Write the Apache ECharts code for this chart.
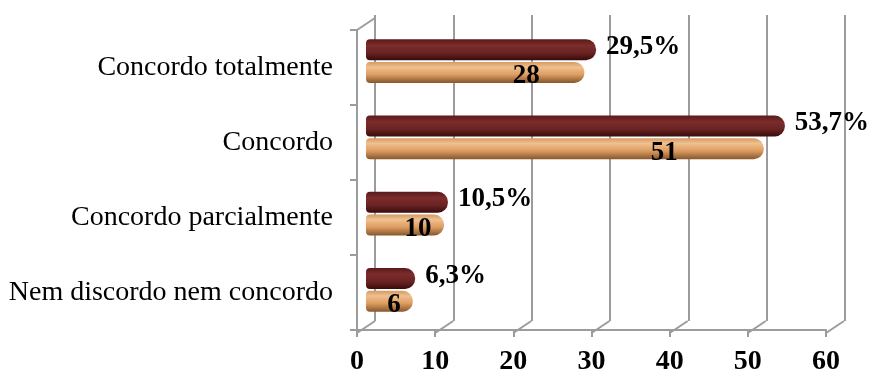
<!DOCTYPE html>
<html>
<head>
<meta charset="utf-8">
<style>
  html, body { margin: 0; padding: 0; background: #ffffff; }
  #chart { width: 874px; height: 376px; }
</style>
<script src="https://cdn.jsdelivr.net/npm/echarts@6/dist/echarts.min.js"></script>
</head>
<body>
<div id="chart"></div>
<script>
// Responses, listed bottom to top as they appear on the axis
const categories = [
  'Nem discordo nem concordo',
  'Concordo parcialmente',
  'Concordo',
  'Concordo totalmente'
];
// Share of respondents (%)
const percentValues = [6.3, 10.5, 53.7, 29.5];
// Number of respondents
const countValues = [6, 10, 51, 28];
// Value axis ticks
const axisTicks = [0, 10, 20, 30, 40, 50, 60];

const serif = '"Times New Roman", "Liberation Serif", serif';
const gridGray = '#9c9c9c';
const axisMin = axisTicks[0];
const axisMax = axisTicks[axisTicks.length - 1];
const axisStep = axisTicks[1] - axisTicks[0];

// depth offset of the back wall relative to the front axes
const DEPTH_X = 18;
const DEPTH_Y = -12;

const chart = echarts.init(document.getElementById('chart'), null, { renderer: 'canvas' });

function pct(v) { return v.toFixed(1).replace('.', ',') + '%'; }

const option = {
  animation: false,
  backgroundColor: '#ffffff',
  grid: [
    // 0: front axes (labels, baseline, left wall edge)
    { left: 357, right: 48, top: 30, bottom: 43, containLabel: false },
    // 1: back wall with vertical gridlines
    { left: 375, right: 29, top: 15, bottom: 55, containLabel: false },
    // 2: bars, sitting halfway into the depth
    { left: 366, right: 40, top: 23, bottom: 48, containLabel: false },
    // 3: helper grid for the depth connectors (same frame as the front axes)
    { left: 357, right: 48, top: 30, bottom: 43, containLabel: false }
  ],
  xAxis: [
    {
      gridIndex: 0, type: 'value', min: axisMin, max: axisMax, interval: axisStep,
      axisLine: { show: true, lineStyle: { color: gridGray, width: 2 } },
      axisTick: { show: true, length: 7, lineStyle: { color: gridGray, width: 2 } },
      axisLabel: { show: true, color: '#000', fontFamily: serif, fontWeight: 'bold', fontSize: 28, margin: 18 },
      splitLine: { show: false }
    },
    {
      gridIndex: 1, type: 'value', min: axisMin, max: axisMax, interval: axisStep,
      axisLine: { show: false }, axisTick: { show: false }, axisLabel: { show: false },
      splitLine: { show: true, lineStyle: { color: gridGray, width: 2 } }
    },
    {
      gridIndex: 2, type: 'value', min: axisMin, max: axisMax, interval: axisStep,
      axisLine: { show: false }, axisTick: { show: false }, axisLabel: { show: false },
      splitLine: { show: false }
    },
    {
      gridIndex: 3, type: 'value', min: axisMin, max: axisMax, interval: axisStep,
      show: false
    }
  ],
  yAxis: [
    {
      gridIndex: 0, type: 'category', data: categories,
      axisLine: { show: true, lineStyle: { color: gridGray, width: 2 } },
      axisTick: { show: true, length: 7, lineStyle: { color: gridGray, width: 2 } },
      axisLabel: { show: true, color: '#000', fontFamily: serif, fontSize: 28, margin: 24 },
      splitLine: { show: false }
    },
    {
      gridIndex: 1, type: 'value', min: 0, max: 1,
      show: false, splitLine: { show: false }
    },
    {
      gridIndex: 2, type: 'category', data: categories, show: false
    },
    {
      gridIndex: 3, type: 'value', min: 0, max: 1, show: false
    }
  ],
  series: [
    {
      // floor and top edges joining the front axes to the back wall
      type: 'custom',
      xAxisIndex: 3, yAxisIndex: 3,
      silent: true,
      data: axisTicks.map(t => [t, 0]).concat([[axisMin, 1]]),
      renderItem: function (params, api) {
        const p = api.coord([api.value(0), api.value(1)]);
        return {
          type: 'line',
          shape: { x1: p[0], y1: p[1], x2: p[0] + DEPTH_X, y2: p[1] + DEPTH_Y },
          style: { stroke: gridGray, lineWidth: 2 }
        };
      },
      z: 1
    },
    {
      name: '%',
      type: 'bar',
      xAxisIndex: 2, yAxisIndex: 2,
      data: percentValues,
      barWidth: 21,
      barGap: '8%',
      itemStyle: {
        borderRadius: [4, 10, 10, 4],
        color: new echarts.graphic.LinearGradient(0, 0, 0, 1, [
          { offset: 0, color: '#5a1a1a' },
          { offset: 0.3, color: '#7c2c2c' },
          { offset: 0.65, color: '#6a2323' },
          { offset: 1, color: '#380b0b' }
        ])
      },
      label: {
        show: true,
        position: 'right',
        distance: 10,
        offset: [0, -3],
        color: '#000',
        fontFamily: serif,
        fontWeight: 'bold',
        fontSize: 27,
        formatter: p => pct(p.value)
      },
      z: 3
    },
    {
      name: 'n',
      type: 'bar',
      xAxisIndex: 2, yAxisIndex: 2,
      data: countValues,
      barWidth: 21,
      itemStyle: {
        borderRadius: [4, 10, 10, 4],
        color: new echarts.graphic.LinearGradient(0, 0, 0, 1, [
          { offset: 0, color: '#d19a66' },
          { offset: 0.25, color: '#f1c08e' },
          { offset: 0.6, color: '#dc9d62' },
          { offset: 1, color: '#87562c' }
        ])
      },
      label: {
        show: true,
        position: ['77%', '50%'],
        offset: [-8, 4],
        align: 'center',
        verticalAlign: 'middle',
        color: '#000',
        fontFamily: serif,
        fontWeight: 'bold',
        fontSize: 27,
        formatter: p => String(p.value)
      },
      z: 3
    }
  ]
};

chart.setOption(option);
</script>
</body>
</html>
